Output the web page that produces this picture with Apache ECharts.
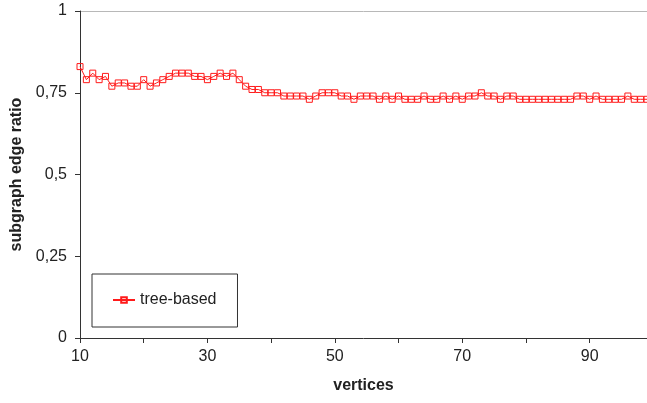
<!DOCTYPE html>
<html>
<head>
<meta charset="utf-8">
<script src="https://cdn.jsdelivr.net/npm/echarts@6/dist/echarts.min.js"></script>
<style>
  html, body { margin: 0; padding: 0; background: #fff; }
  #chart { width: 647px; height: 403px; }
</style>
</head>
<body>
<div id="chart"></div>
<script>
// Number of vertices (10 .. 99)
const vertices = [];
for (let v = 10; v <= 99; v++) vertices.push(v);

// Subgraph edge ratio for the tree-based method, one value per vertex count
const treeBased = [
  0.83, 0.79, 0.81, 0.79, 0.80, 0.77, 0.78, 0.78, 0.77, 0.77,
  0.79, 0.77, 0.78, 0.79, 0.80, 0.81, 0.81, 0.81, 0.80, 0.80,
  0.79, 0.80, 0.81, 0.80, 0.81, 0.79, 0.77, 0.76, 0.76, 0.75,
  0.75, 0.75, 0.74, 0.74, 0.74, 0.74, 0.73, 0.74, 0.75, 0.75,
  0.75, 0.74, 0.74, 0.73, 0.74, 0.74, 0.74, 0.73, 0.74, 0.73,
  0.74, 0.73, 0.73, 0.73, 0.74, 0.73, 0.73, 0.74, 0.73, 0.74,
  0.73, 0.74, 0.74, 0.75, 0.74, 0.74, 0.73, 0.74, 0.74, 0.73,
  0.73, 0.73, 0.73, 0.73, 0.73, 0.73, 0.73, 0.73, 0.74, 0.74,
  0.73, 0.74, 0.73, 0.73, 0.73, 0.73, 0.74, 0.73, 0.73, 0.73
];

const seriesName = 'tree-based';
const xLabelsShown = [10, 30, 50, 70, 90];
const yTicks = [0, 0.25, 0.5, 0.75, 1];

const chart = echarts.init(document.getElementById('chart'), null, { renderer: 'canvas' });
const textColor = '#222';
const font = 'Liberation Sans, Arial, sans-serif';

chart.setOption({
  animation: false,
  backgroundColor: '#fff',
  grid: { left: 80, top: 11, right: 0, bottom: 65, containLabel: false },
  legend: {
    data: [seriesName],
    left: 92,
    top: 274,
    orient: 'vertical',
    padding: [18, 21, 19, 20],
    borderColor: '#333',
    borderWidth: 1,
    itemWidth: 22,
    itemHeight: 7,
    itemGap: 0,
    textStyle: { fontFamily: font, fontSize: 16, color: textColor }
  },
  xAxis: {
    type: 'value',
    min: 10,
    max: 99,
    interval: 10,
    name: 'vertices',
    nameLocation: 'middle',
    nameGap: 40,
    nameTextStyle: { fontFamily: font, fontSize: 16, fontWeight: 'bold', color: textColor },
    axisLine: { lineStyle: { color: '#333', width: 1 } },
    axisTick: { show: true, length: 5, lineStyle: { color: '#333' } },
    axisLabel: {
      margin: 11,
      fontFamily: font, fontSize: 16, color: textColor,
      showMaxLabel: false,
      formatter: v => (xLabelsShown.indexOf(v) >= 0 ? String(v) : '')
    },
    splitLine: { show: false }
  },
  yAxis: {
    type: 'value',
    min: 0,
    max: 1,
    interval: 0.25,
    name: 'subgraph edge ratio',
    nameLocation: 'middle',
    nameGap: 51,
    nameRotate: 90,
    nameTextStyle: { fontFamily: font, fontSize: 16, fontWeight: 'bold', color: textColor },
    axisLine: { show: true, lineStyle: { color: '#333', width: 1 } },
    axisTick: { show: true, length: 5, lineStyle: { color: '#333' } },
    axisLabel: {
      margin: 13,
      fontFamily: font, fontSize: 16, color: textColor,
      formatter: v => (yTicks.indexOf(v) >= 0 ? String(v).replace('.', ',') : '')
    },
    // only the top border of the plot area is drawn
    splitLine: {
      show: true,
      lineStyle: {
        color: ['rgba(0,0,0,0)', 'rgba(0,0,0,0)', 'rgba(0,0,0,0)', 'rgba(0,0,0,0)', '#b8b8b8'],
        width: 1
      }
    }
  },
  series: [{
    name: seriesName,
    type: 'line',
    data: vertices.map((v, i) => [v, treeBased[i]]),
    symbol: 'rect',
    symbolSize: 6,
    showAllSymbol: true,
    clip: false,
    lineStyle: { color: '#ff1a1a', width: 1 },
    itemStyle: { color: 'rgba(255,255,255,0)', borderColor: '#ff1a1a', borderWidth: 1 }
  }]
});
</script>
</body>
</html>
